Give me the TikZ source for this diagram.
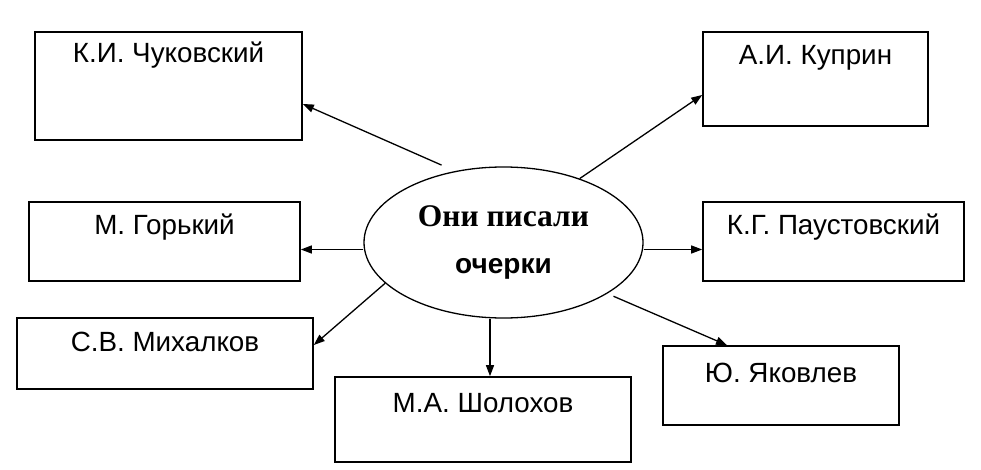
\documentclass[tikz,border=0pt]{standalone}
\usepackage{fontspec}
\setmainfont{Liberation Sans}
\newfontfamily\serifbold{Liberation Serif}
\newfontfamily\sansbold{Liberation Sans}
\usepackage{tikz}
\usetikzlibrary{arrows.meta,shapes.geometric}

\begin{document}
\begin{tikzpicture}[x=1pt,y=1pt,>={Triangle[length=11pt,width=8pt]},
  writer/.style={draw,line width=1.6pt,inner sep=0pt,font=\fontsize{27.8}{32}\selectfont},
  link/.style={->,line width=1.3pt}]
\useasboundingbox (0,0) rectangle (981,-470);
%%%CENTRE
\node[ellipse,draw,line width=1.3pt,minimum width=279pt,minimum height=151pt,inner sep=0pt,align=center,
  font=\fontsize{28}{47}\selectfont] (oval) at (503.5,-242.5)
  {{\serifbold\bfseries\fontsize{31.5}{47}\selectfont Они писали}\\{\sansbold\bfseries очерки}};
%%%WRITERS
\node[writer,minimum width=267pt,text height=31pt,text depth=77pt] (chuk) at (168.5,-86) {К.И. Чуковский};
\node[writer,minimum width=225pt,text height=33pt,text depth=61pt] (kuprin) at (815.5,-79) {А.И. Куприн};
\node[writer,minimum width=271pt,text height=32pt,text depth=47pt] (gorky) at (164.5,-241.5) {М. Горький};
\node[writer,minimum width=261pt,text height=32pt,text depth=47pt] (paust) at (833.5,-241.5) {К.Г. Паустовский};
\node[writer,minimum width=296pt,text height=33pt,text depth=38pt] (mikh) at (165,-353.5) {С.В. Михалков};
\node[writer,minimum width=296pt,text height=35pt,text depth=50pt] (shol) at (483,-419.5) {М.А. Шолохов};
\node[writer,minimum width=236pt,text height=36pt,text depth=43pt] (yak) at (781,-385.5) {Ю. Яковлев};
%%%ARROWS
\draw[link] ([shift={(-5.5,7.7)}]oval.129) -- ([yshift=-18pt]chuk.east);
\draw[link] (oval.40) -- ([yshift=-16pt]kuprin.west);
\draw[link] ([yshift=-7pt]oval.west) -- ([yshift=-7pt]oval.west -| gorky.east);
\draw[link] ([yshift=-7pt]oval.east) -- ([yshift=-7pt]oval.east -| paust.west);
\draw[link] (oval.199) -- ([yshift=8.5pt]mikh.east);
\draw[link] ([xshift=7pt]shol.north |- oval.south) -- ([xshift=7pt]shol.north);
\draw[link] ([shift={(5.7,-2.9)}]oval.-26) -- ([xshift=-54pt]yak.north);
\end{tikzpicture}
\end{document}
